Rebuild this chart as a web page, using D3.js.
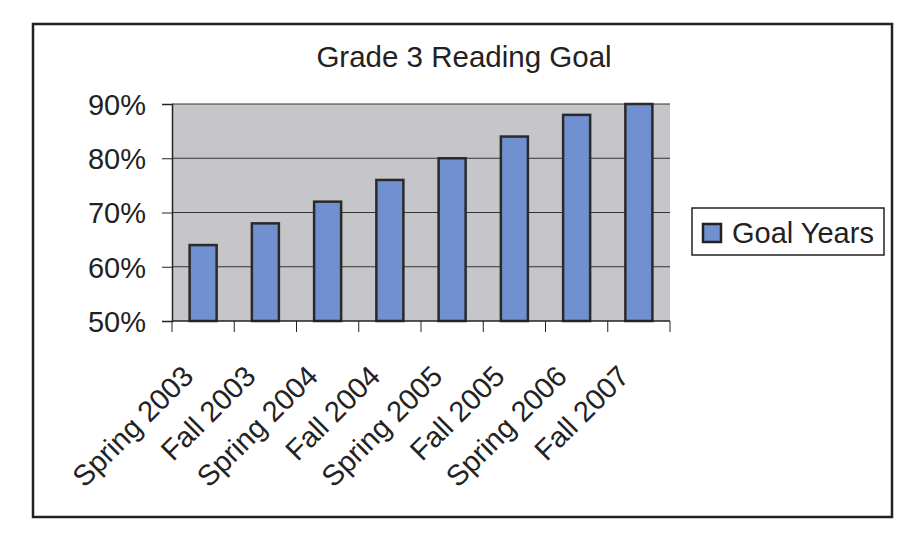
<!DOCTYPE html>
<html>
<head>
<meta charset="utf-8">
<script src="https://cdn.jsdelivr.net/npm/d3@7.9.0/dist/d3.min.js"></script>
<style>
  body { margin: 0; background: #fff; }
  text { font-family: "Liberation Sans", Arial, sans-serif; fill: #222; }
</style>
</head>
<body>
<div id="chart"></div>
<script>
const terms = ['Spring 2003', 'Fall 2003', 'Spring 2004', 'Fall 2004',
  'Spring 2005', 'Fall 2005', 'Spring 2006', 'Fall 2007'];
const goalValues = [64, 68, 72, 76, 80, 84, 88, 90];
const yTicks = [50, 60, 70, 80, 90];

const width = 915;
const height = 549;
const plot = { left: 172, right: 670, top: 104, bottom: 321 };

const svg = d3.select('#chart')
  .append('svg')
  .attr('width', width)
  .attr('height', height);

// outer chart frame
svg.append('rect')
  .attr('x', 33).attr('y', 24)
  .attr('width', 859).attr('height', 493)
  .attr('fill', '#fff')
  .attr('stroke', '#222')
  .attr('stroke-width', 2.5);

svg.append('text')
  .attr('x', 464).attr('y', 67)
  .attr('text-anchor', 'middle')
  .style('font-size', '29.5px')
  .text('Grade 3 Reading Goal');

const x = d3.scaleBand()
  .domain(terms)
  .range([plot.left, plot.right])
  .paddingInner(0.566)
  .paddingOuter(0.283);

const y = d3.scaleLinear()
  .domain([50, 90])
  .range([plot.bottom, plot.top]);

// plot background
svg.append('rect')
  .attr('x', plot.left).attr('y', plot.top)
  .attr('width', plot.right - plot.left)
  .attr('height', plot.bottom - plot.top)
  .attr('fill', '#c6c6ca');

// gridlines
svg.append('g')
  .selectAll('line')
  .data(yTicks.slice(1))
  .join('line')
  .attr('x1', plot.left).attr('x2', plot.right)
  .attr('y1', d => y(d)).attr('y2', d => y(d))
  .attr('stroke', '#333')
  .attr('stroke-width', 1.2);

// bars
svg.append('g')
  .selectAll('rect')
  .data(goalValues)
  .join('rect')
  .attr('x', (d, i) => x(terms[i]))
  .attr('y', d => y(d))
  .attr('width', x.bandwidth())
  .attr('height', d => y(50) - y(d))
  .attr('fill', '#7090d0')
  .attr('stroke', '#2a2a2a')
  .attr('stroke-width', 2.5);

// y axis
const yAxis = svg.append('g')
  .attr('transform', `translate(${plot.left},0)`)
  .call(d3.axisLeft(y)
    .tickValues(yTicks)
    .tickFormat(d => d + '%')
    .tickSize(10)
    .tickPadding(16));
yAxis.select('.domain').attr('stroke', '#222').attr('stroke-width', 1.5);
yAxis.selectAll('.tick line').attr('stroke', '#222');
yAxis.selectAll('.tick text')
  .attr('fill', '#222')
  .attr('dy', '0.36em')
  .style('font-family', '"Liberation Sans", Arial, sans-serif')
  .style('font-size', '29px');

// x axis: ticks at category boundaries
const step = x.step();
const boundaries = d3.range(terms.length + 1).map(i => plot.left + i * step);
svg.append('line')
  .attr('x1', plot.left).attr('x2', plot.right)
  .attr('y1', plot.bottom).attr('y2', plot.bottom)
  .attr('stroke', '#222')
  .attr('stroke-width', 1.5);
svg.append('g')
  .selectAll('line')
  .data(boundaries)
  .join('line')
  .attr('x1', d => d).attr('x2', d => d)
  .attr('y1', plot.bottom).attr('y2', plot.bottom + 11)
  .attr('stroke', '#222');

svg.append('g')
  .selectAll('text')
  .data(terms)
  .join('text')
  .attr('transform', d => `translate(${x(d) + x.bandwidth() / 2 - 8},${plot.bottom + 57}) rotate(-45)`)
  .attr('text-anchor', 'end')
  .style('font-size', '29px')
  .text(d => d);

// legend
const legend = svg.append('g');
legend.append('rect')
  .attr('x', 692).attr('y', 208)
  .attr('width', 192).attr('height', 47)
  .attr('fill', '#fff')
  .attr('stroke', '#222')
  .attr('stroke-width', 1.5);
legend.append('rect')
  .attr('x', 703).attr('y', 224)
  .attr('width', 18).attr('height', 18)
  .attr('fill', '#7090d0')
  .attr('stroke', '#222')
  .attr('stroke-width', 2.5);
legend.append('text')
  .attr('x', 732).attr('y', 243)
  .style('font-size', '29px')
  .text('Goal Years');
</script>
</body>
</html>
